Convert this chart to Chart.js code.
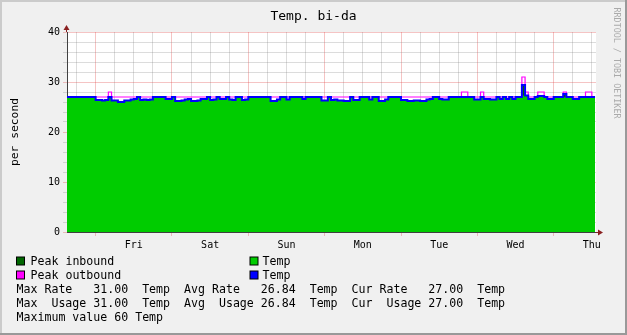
<!DOCTYPE html>
<html><head><meta charset="utf-8">
<script src="https://cdn.jsdelivr.net/npm/chart.js@4/dist/chart.umd.min.js"></script>
<style>html,body{margin:0;padding:0;background:#f0f0f0;overflow:hidden}#c{display:block}</style>
</head><body>
<canvas id="c" width="627" height="335"></canvas>
<script>
// ---- data ----
const chartTitle = 'Temp. bi-da';
const yAxisTitle = 'per second';
const creditText = 'RRDTOOL / TOBI OETIKER';
const dayNames = ['Fri', 'Sat', 'Sun', 'Mon', 'Tue', 'Wed', 'Thu']; // labelled at noon of each day
const startHour = -9;      // hours relative to Fri 00:00
const endHour = 157.3;
const yMax = 40;
// hourly samples starting at startHour
const inAvg = [
  27,27,27,27,27,27,27,27,27,27,
  26.4,26.4,26.3,26.4,27,26.3,26.3,26,26,26.3,
  26.3,26.5,26.6,27,26.4,26.5,26.4,26.5,27,27,
  27,27,26.6,26.6,27,26.2,26.2,26.3,26.5,26.6,
  26.2,26.2,26.3,26.6,26.6,27,26.4,26.5,27,26.6,
  26.6,27,26.5,26.4,27,27,26.4,26.5,27,27,
  27,27,27,27,27,26.2,26.2,26.5,27,27,
  26.5,27,27,27,27,26.6,27,27,27,27,
  27,26.3,26.3,27,26.4,26.5,26.3,26.3,26.2,26.2,
  27,26.4,26.4,27,27,27,26.5,27,27,26.2,
  26.2,26.5,27,27,27,27,26.4,26.4,26.2,26.2,
  26.3,26.3,26.2,26.2,26.5,26.6,27,27,26.6,26.5,
  26.5,27,27,27,27,27,27,27,27,26.5,
  26.5,27,26.6,26.6,26.5,26.5,27,26.6,27,26.6,
  27,26.6,27,27,27.3,27.3,26.6,26.6,27,27.2,
  27.2,27,26.6,26.6,27,27,27,27,27,27,
  26.6,26.6,27,27,27,27,27
];
const outAvg = [
  27,27,27,27,27,27,27,27,27,27,
  26.4,26.4,26.3,26.4,27,26.3,26.3,26,26,26.3,
  26.3,26.5,26.6,27,26.4,26.5,26.4,26.5,27,27,
  27,27,26.6,26.6,27,26.2,26.2,26.3,26.5,26.6,
  26.2,26.2,26.3,26.6,26.6,27,26.4,26.5,27,26.6,
  26.6,27,26.5,26.4,27,27,26.4,26.5,27,27,
  27,27,27,27,27,26.2,26.2,26.5,27,27,
  26.5,27,27,27,27,26.6,27,27,27,27,
  27,26.3,26.3,27,26.4,26.5,26.3,26.3,26.2,26.2,
  27,26.4,26.4,27,27,27,26.5,27,27,26.2,
  26.2,26.5,27,27,27,27,26.4,26.4,26.2,26.2,
  26.3,26.3,26.2,26.2,26.5,26.6,27,27,26.6,26.5,
  26.5,27,27,27,27,27,27,27,27,26.5,
  26.5,27,26.6,26.6,26.5,26.5,27,26.6,27,26.6,
  27,26.6,27,27,29.4,27.3,26.6,26.6,27,27.2,
  27.2,27,26.6,26.6,27,27,27,27.6,27,27,
  26.6,26.6,27,27,27,27,27
];
const peakIn = [
  27,27,27,27,27,27,27,27,27,27,
  26.4,26.4,26.3,26.4,27,26.3,26.3,26,26,26.3,
  26.3,26.5,26.6,27,26.4,26.5,26.4,26.5,27,27,
  27,27,26.6,26.6,27,26.2,26.2,26.3,26.5,26.6,
  26.2,26.2,26.3,26.6,26.6,27,26.4,26.5,27,26.6,
  26.6,27,26.5,26.4,27,27,26.4,26.5,27,27,
  27,27,27,27,27,26.2,26.2,26.5,27,27,
  26.5,27,27,27,27,26.6,27,27,27,27,
  27,26.3,26.3,27,26.4,26.5,26.3,26.3,26.2,26.2,
  27,26.4,26.4,27,27,27,26.5,27,27,26.2,
  26.2,26.5,27,27,27,27,26.4,26.4,26.2,26.2,
  26.3,26.3,26.2,26.2,26.5,26.6,27,27,26.6,26.5,
  26.5,27,27,27,27,27,27,27,27,26.5,
  26.5,27,26.6,26.6,26.5,26.5,27,26.6,27,26.6,
  27,26.6,27,27,29.4,27.3,26.6,26.6,27,27.2,
  27.2,27,26.6,26.6,27,27,27,27.6,27,27,
  26.6,26.6,27,27,27,27,27
];
const peakOut = [
  27,27,27,27,27,27,27,27,27,27,
  27,27,27,27,28,27,27,27,27,27,
  27,27,27,27,27,27,27,27,27,27,
  27,27,27,27,27,27,27,27,27,27,
  27,27,27,27,27,27,27,27,27,27,
  27,27,27,27,27,27,27,27,27,27,
  27,27,27,27,27,27,27,27,27,27,
  27,27,27,27,27,27,27,27,27,27,
  27,27,27,27,27,27,27,27,27,27,
  27,27,27,27,27,27,27,27,27,27,
  27,27,27,27,27,27,27,27,27,27,
  27,27,27,27,27,27,27,27,27,27,
  27,27,27,27,27,28,28,27,27,27,
  27,28,27,27,27,27,27,27,27,27,
  27,27,27,27,31,28,27,27,27,28,
  28,27,27,27,27,27,27,28,27,27,
  27,27,27,27,28,28,27
];
const legendItems = [
  { label: 'Peak inbound', color: '#006600' },
  { label: 'Peak outbound', color: '#ff00ff' },
  { label: 'Temp', color: '#00cc00' },
  { label: 'Temp', color: '#0000ff' }
];
const statRows = [
  'Max Rate   31.00  Temp  Avg Rate   26.84  Temp  Cur Rate   27.00  Temp',
  'Max  Usage 31.00  Temp  Avg  Usage 26.84  Temp  Cur  Usage 27.00  Temp',
  'Maximum value 60 Temp'
];

// ---- build ----
const toPoints = arr => arr.map((v, i) => ({ x: startHour + i, y: v }));
const MONO = '"DejaVu Sans Mono", monospace';
const RED_GRID = 'rgba(222,60,60,0.3)';
const GREY_GRID = 'rgba(130,130,130,0.28)';

const decor = {
  id: 'decor',
  beforeDraw(chart) {
    const { ctx, chartArea: a } = chart;
    ctx.save();
    ctx.fillStyle = '#f0f0f0';
    ctx.fillRect(0, 0, chart.width, chart.height);
    ctx.fillStyle = '#ffffff';
    ctx.fillRect(a.left, a.top, a.right - a.left, a.bottom - a.top);
    ctx.restore();
  },
  afterDraw(chart) {
    const { ctx, chartArea: a } = chart;
    const W = chart.width, H = chart.height;
    ctx.save();
    // frame
    ctx.fillStyle = '#cbcbcb';
    ctx.fillRect(0, 0, W, 2); ctx.fillRect(0, 0, 2, H);
    ctx.fillStyle = '#999999';
    ctx.fillRect(W - 2, 0, 2, H); ctx.fillRect(0, H - 2, W, 2);
    // arrows
    ctx.fillStyle = '#8a2020';
    ctx.strokeStyle = '#8a2020';
    ctx.lineWidth = 1;
    ctx.beginPath(); ctx.moveTo(a.right, a.bottom + 0.5); ctx.lineTo(a.right + 3, a.bottom + 0.5); ctx.stroke();
    ctx.beginPath(); ctx.moveTo(a.right + 2, a.bottom - 2.5); ctx.lineTo(a.right + 7, a.bottom + 0.5); ctx.lineTo(a.right + 2, a.bottom + 3.5); ctx.closePath(); ctx.fill();
    ctx.beginPath(); ctx.moveTo(a.left - 0.5, a.top); ctx.lineTo(a.left - 0.5, a.top - 3); ctx.stroke();
    ctx.beginPath(); ctx.moveTo(a.left - 3.5, a.top - 2); ctx.lineTo(a.left - 0.5, a.top - 7); ctx.lineTo(a.left + 2.5, a.top - 2); ctx.closePath(); ctx.fill();
    // title
    ctx.fillStyle = '#000';
    ctx.textAlign = 'center'; ctx.textBaseline = 'middle';
    ctx.font = '13px ' + MONO;
    ctx.fillText(chartTitle, 313.5, 17);
    // y title
    ctx.save();
    ctx.translate(15, 132); ctx.rotate(-Math.PI / 2);
    ctx.font = '11.3px ' + MONO;
    ctx.fillText(yAxisTitle, 0, 0);
    ctx.restore();
    // credit
    ctx.save();
    ctx.translate(616.5, 63); ctx.rotate(Math.PI / 2);
    ctx.font = '8.4px ' + MONO;
    ctx.fillStyle = '#aaaaaa';
    ctx.fillText(creditText, 0, 0);
    ctx.restore();
    // legend boxes
    const boxPos = [[16.5, 257], [16.5, 271], [250, 257], [250, 271]];
    const textPos = [[30.5, 261.5], [30.5, 275.5], [262.5, 261.5], [262.5, 275.5]];
    ctx.font = '11.6px ' + MONO;
    ctx.textAlign = 'left';
    legendItems.forEach((it, i) => {
      const [bx, by] = boxPos[i];
      ctx.fillStyle = it.color;
      ctx.fillRect(bx, by, 8, 8);
      ctx.strokeStyle = '#000'; ctx.lineWidth = 1;
      ctx.strokeRect(bx, by, 8, 8);
      ctx.fillStyle = '#000';
      ctx.fillText(it.label, textPos[i][0], textPos[i][1]);
    });
    const rowY = [289.5, 303.5, 317.5];
    statRows.forEach((row, i) => ctx.fillText(row, 16.5, rowY[i]));
    ctx.restore();
  }
};

new Chart(document.getElementById('c'), {
  type: 'line',
  data: {
    datasets: [
      { label: 'Temp', data: toPoints(outAvg), borderColor: '#0000ff', borderWidth: 2, fill: false, stepped: 'after', pointRadius: 0, order: 0 },
      { label: 'Peak outbound', data: toPoints(peakOut), borderColor: '#ff00ff', borderWidth: 1.2, fill: false, stepped: 'after', pointRadius: 0, order: 1 },
      { label: 'Temp', data: toPoints(inAvg), borderColor: '#00cc00', borderWidth: 0, backgroundColor: '#00cc00', fill: 'origin', stepped: 'after', pointRadius: 0, order: 2 },
      { label: 'Peak inbound', data: toPoints(peakIn), borderColor: '#006600', borderWidth: 0, backgroundColor: '#006600', fill: 'origin', stepped: 'after', pointRadius: 0, order: 3 }
    ]
  },
  options: {
    responsive: false,
    animation: false,
    devicePixelRatio: 1,
    layout: { padding: { left: 0, right: 31, top: 32, bottom: 0 } },
    plugins: { legend: { display: false }, tooltip: { enabled: false }, title: { display: false } },
    events: [],
    scales: {
      x: {
        type: 'linear', min: startHour, max: endHour, z: 1,
        afterFit: s => { s.height = 103; },
        afterBuildTicks: s => { s.ticks = s.ticks.filter(t => Math.abs(t.value % 6) < 1e-6); },
        ticks: {
          stepSize: 6, includeBounds: false, autoSkip: false, maxRotation: 0, padding: 3,
          color: '#000', font: { family: 'DejaVu Sans Mono', size: 10 },
          callback: v => (((v % 24) + 24) % 24 === 12) ? dayNames[Math.floor(v / 24)] : ''
        },
        grid: {
          color: c => (c.tick && c.tick.value % 24 === 0) ? RED_GRID : GREY_GRID,
          tickColor: c => (c.tick && c.tick.value % 24 === 0) ? RED_GRID : 'rgba(0,0,0,0)',
          tickLength: 4, lineWidth: 1
        },
        border: { color: '#404040', width: 1 }
      },
      y: {
        min: 0, max: yMax, z: 1,
        afterFit: s => { s.width = 67; },
        ticks: {
          stepSize: 2, autoSkip: false, padding: 3,
          color: '#000', font: { family: 'DejaVu Sans Mono', size: 10 },
          callback: v => (v % 10 === 0) ? String(v) : ''
        },
        grid: {
          color: c => (c.tick && c.tick.value % 10 === 0) ? RED_GRID : GREY_GRID,
          tickColor: c => (c.tick && c.tick.value % 10 === 0) ? RED_GRID : GREY_GRID,
          tickLength: 4, lineWidth: 1
        },
        border: { color: '#404040', width: 1 }
      }
    }
  },
  plugins: [decor]
});
</script>
</body></html>
